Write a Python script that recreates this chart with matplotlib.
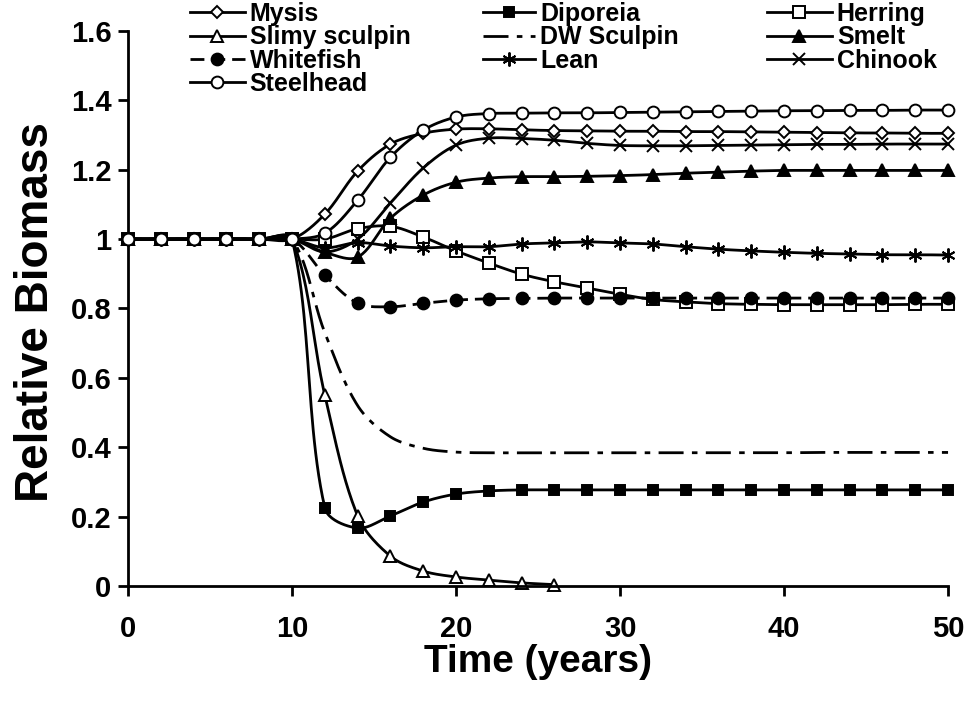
import numpy as np
import matplotlib.pyplot as plt
from matplotlib.lines import Line2D
from matplotlib.ticker import FuncFormatter

plt.rcParams['font.family'] = ['Liberation Sans', 'DejaVu Sans']
plt.rcParams['font.weight'] = 'bold'

# data, every 2 years
years = np.arange(0, 51, 2)
mysis = [1, 1, 1, 1, 1, 1, 1.072, 1.196, 1.274, 1.305, 1.317, 1.318, 1.315, 1.313, 1.312,
         1.311, 1.311, 1.310, 1.310, 1.309, 1.308, 1.307, 1.306, 1.306, 1.305, 1.305]
diporeia = [1, 1, 1, 1, 1, 1, 0.225, 0.167, 0.202, 0.242, 0.265, 0.274, 0.277, 0.277, 0.277,
            0.277, 0.277, 0.277, 0.277, 0.277, 0.277, 0.277, 0.277, 0.277, 0.277, 0.277]
herring = [1, 1, 1, 1, 1, 1, 1.0, 1.03, 1.037, 1.006, 0.966, 0.931, 0.899, 0.877, 0.859,
           0.841, 0.826, 0.819, 0.814, 0.812, 0.811, 0.811, 0.811, 0.811, 0.812, 0.812]
slimy = [1, 1, 1, 1, 1, 1, 0.55, 0.202, 0.086, 0.043, 0.026, 0.017, 0.009, 0.004,
         np.nan, np.nan, np.nan, np.nan, np.nan, np.nan, np.nan, np.nan, np.nan, np.nan, np.nan, np.nan]
dw_sculpin = [1, 1, 1, 1, 1, 1, 0.73, 0.52, 0.43, 0.397, 0.386, 0.384, 0.384, 0.384, 0.384,
              0.384, 0.384, 0.384, 0.384, 0.384, 0.384, 0.385, 0.385, 0.385, 0.385, 0.385]
smelt = [1, 1, 1, 1, 1, 1, 0.962, 0.948, 1.06, 1.127, 1.164, 1.176, 1.18, 1.18, 1.181,
         1.183, 1.186, 1.19, 1.193, 1.196, 1.198, 1.198, 1.198, 1.198, 1.198, 1.198]
whitefish = [1, 1, 1, 1, 1, 1, 0.896, 0.815, 0.805, 0.815, 0.824, 0.828, 0.829, 0.83, 0.83,
             0.83, 0.83, 0.83, 0.83, 0.83, 0.83, 0.83, 0.83, 0.83, 0.83, 0.83]
lean = [1, 1, 1, 1, 1, 1, 0.975, 0.99, 0.98, 0.975, 0.978, 0.978, 0.986, 0.989, 0.992,
        0.989, 0.986, 0.978, 0.971, 0.966, 0.962, 0.959, 0.957, 0.955, 0.955, 0.954]
chinook = [1, 1, 1, 1, 1, 1, 0.963, 1.0, 1.104, 1.205, 1.271, 1.291, 1.29, 1.285, 1.276,
           1.27, 1.269, 1.269, 1.27, 1.271, 1.272, 1.273, 1.273, 1.274, 1.274, 1.274]
steelhead = [1, 1, 1, 1, 1, 1, 1.017, 1.112, 1.236, 1.314, 1.352, 1.362, 1.363, 1.364, 1.364,
             1.365, 1.366, 1.367, 1.368, 1.369, 1.37, 1.37, 1.371, 1.371, 1.372, 1.372]

names = ['Mysis', 'Diporeia', 'Herring', 'Slimy sculpin', 'DW Sculpin', 'Smelt',
         'Whitefish', 'Lean', 'Chinook', 'Steelhead']
series = [mysis, diporeia, herring, slimy, dw_sculpin, smelt, whitefish, lean, chinook, steelhead]

# style: (marker, facecolor, size, linestyle)
styles = {
    'Mysis': ('D', 'white', 6.5, '-'),
    'Diporeia': ('s', 'black', 7.5, '-'),
    'Herring': ('s', 'white', 8, '-'),
    'Slimy sculpin': ('^', 'white', 8.5, '-'),
    'DW Sculpin': (None, 'black', 0, (0, (9, 3, 2, 3))),
    'Smelt': ('^', 'black', 8.5, '-'),
    'Whitefish': ('o', 'black', 8.5, (0, (5, 2.5))),
    'Lean': ((6, 2, 0), 'black', 10, '-'),
    'Chinook': ('x', 'black', 9, '-'),
    'Steelhead': ('o', 'white', 8.5, '-'),
}

XPX, YPX = 16.4, 347.0  # screen scale, used only to shape the smoothing


def smooth(x, y, n=24):
    # Excel-like smoothed line: cubic Bezier with chord-weighted tangents
    x = np.asarray(x, float)
    y = np.asarray(y, float)
    ok = ~np.isnan(y)
    p = np.column_stack([x[ok] * XPX, y[ok] * YPX])
    m = len(p)
    seg = np.linalg.norm(np.diff(p, axis=0), axis=1)
    c_out = np.zeros_like(p)
    c_in = np.zeros_like(p)
    for i in range(m):
        if i == 0 or i == m - 1:
            c_out[i] = p[i]
            c_in[i] = p[i]
            continue
        d = p[i + 1] - p[i - 1]
        lp, ln = seg[i - 1], seg[i]
        tot = lp + ln if lp + ln > 0 else 1
        c_in[i] = p[i] - d * lp / tot / 3
        c_out[i] = p[i] + d * ln / tot / 3
    t = np.linspace(0, 1, n, endpoint=False)[:, None]
    pts = []
    for i in range(m - 1):
        a, b, c, e = p[i], c_out[i], c_in[i + 1], p[i + 1]
        if i == 0:
            b = a + (c - a) / 2
        if i == m - 2:
            c = e + (b - e) / 2
        pts.append((1 - t) ** 3 * a + 3 * (1 - t) ** 2 * t * b + 3 * (1 - t) * t ** 2 * c + t ** 3 * e)
    pts.append(p[-1:])
    pts = np.concatenate(pts)
    return pts[:, 0] / XPX, pts[:, 1] / YPX


fig = plt.figure(figsize=(9.67, 7.09), dpi=100)
ax = fig.add_axes([0.1324, 0.1735, 0.848, 0.7828])

handles = []
for k, (name, vals) in enumerate(zip(names, series)):
    mk, fc, ms, ls = styles[name]
    sx, sy = smooth(years, vals)
    ax.plot(sx, sy, color='black', lw=2.0, linestyle=ls, zorder=2 + k * 0.1, clip_on=False)
    if mk is not None:
        ax.plot(years, vals, linestyle='none', marker=mk, ms=ms, mfc=fc, mec='black',
                mew=1.4, zorder=2.05 + k * 0.1, clip_on=False)
    handles.append(Line2D([], [], color='black', lw=2.0, linestyle=ls, marker=mk, ms=ms,
                          mfc=fc, mec='black', mew=1.4))

ax.set_xlim(0, 50)
ax.set_ylim(0, 1.6)
ax.set_xticks(np.arange(0, 51, 10))
ax.set_yticks(np.arange(0, 1.61, 0.2))
ax.yaxis.set_major_formatter(FuncFormatter(lambda v, p: '%g' % round(v, 1)))
for s in ['top', 'right']:
    ax.spines[s].set_visible(False)
for s in ['left', 'bottom']:
    ax.spines[s].set_linewidth(2)
ax.tick_params(direction='out', length=7, width=2, labelsize=21, pad=5)
ax.tick_params(axis='x', pad=14)

ax.set_xlabel('Time (years)', fontsize=28, fontweight='bold')
ax.set_ylabel('Relative Biomass', fontsize=33, fontweight='bold')
ax.xaxis.set_label_coords(0.5, -0.105)
ax.yaxis.set_label_coords(-0.086, 0.494)

# legend: three columns, filled row by row like the original
columns = [[0, 3, 6, 9], [1, 4, 7], [2, 5, 8]]
col_x = [0.196, 0.499, 0.793]
col_hl = [2.2, 2.1, 2.6]
for idx, cx, hl in zip(columns, col_x, col_hl):
    fig.legend([handles[i] for i in idx], [names[i] for i in idx], loc='upper left',
               bbox_to_anchor=(cx, 0.997), frameon=False, fontsize=18,
               handlelength=hl, handletextpad=0.2, labelspacing=-0.03,
               borderaxespad=0, borderpad=0)

fig.savefig('out.png', dpi=100)
